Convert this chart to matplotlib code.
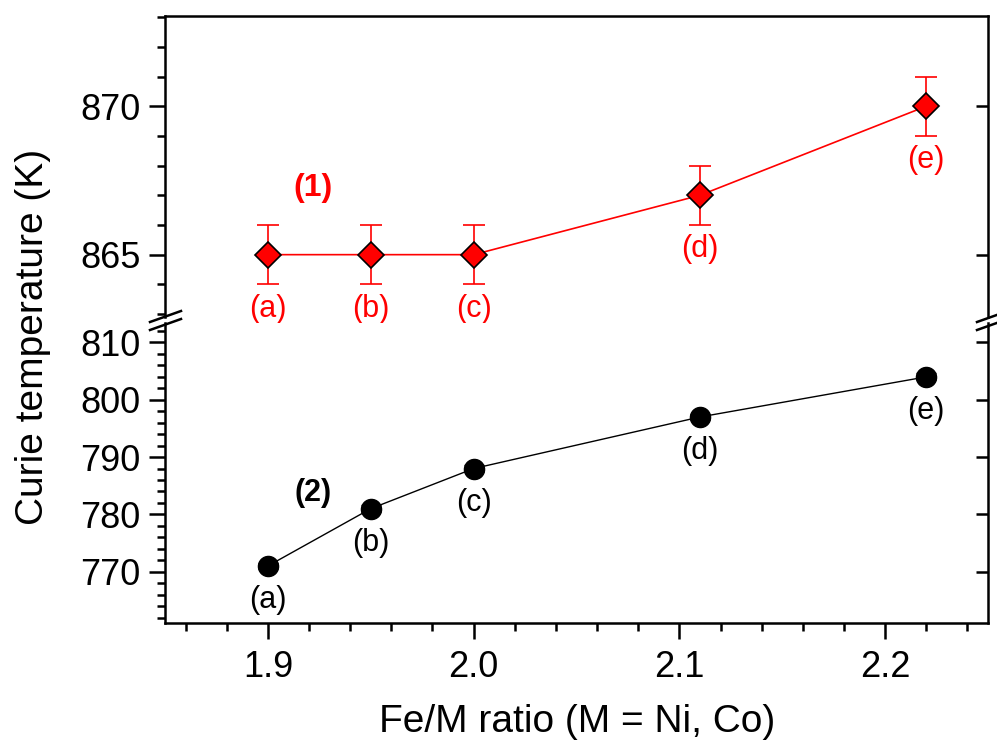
import matplotlib
matplotlib.use("Agg")
import matplotlib.pyplot as plt
from matplotlib.ticker import MultipleLocator
from matplotlib.lines import Line2D

plt.rcParams["font.family"] = ["Liberation Sans", "DejaVu Sans"]

# data
ratio = [1.9, 1.95, 2.0, 2.11, 2.22]
point_labels = ["(a)", "(b)", "(c)", "(d)", "(e)"]
tc_1 = [865, 865, 865, 867, 870]
tc_1_err = [1, 1, 1, 1, 1]
tc_2 = [771, 781, 788, 797, 804]
tc_2_err = [0.6, 0.6, 0.6, 0.6, 0.6]

RED = "#FF0000"
W, H = 997, 751

fig = plt.figure(figsize=(W / 100, H / 100), dpi=100)
left, right = 165 / W, 988 / W
ax_top = fig.add_axes([left, 1 - 317 / H, right - left, (317 - 15.7) / H])
ax_bot = fig.add_axes([left, 1 - 622.7 / H, right - left, (622.7 - 323) / H])

# series (1)
ax_top.errorbar(ratio, tc_1, yerr=tc_1_err, color=RED, lw=1.2, elinewidth=1.2,
                capsize=8, capthick=1.2, marker="D", ms=13.5,
                markerfacecolor=RED, markeredgecolor="black", markeredgewidth=1.2,
                zorder=3)
for x, y, t in zip(ratio, tc_1, point_labels):
    ax_top.annotate(t, (x, y), xytext=(0, -39), textcoords="offset points",
                    ha="center", va="center", color=RED, fontsize=22)
ax_top.text(1.922, 867.25, "(1)", color=RED, fontsize=23, fontweight="bold",
            ha="center", va="center")

# series (2)
ax_bot.errorbar(ratio, tc_2, yerr=tc_2_err, color="black", lw=1.0, elinewidth=1.0,
                capsize=7, capthick=1.0, marker="o", ms=14.5,
                markerfacecolor="black", markeredgecolor="black", zorder=3)
for x, y, t in zip(ratio, tc_2, point_labels):
    ax_bot.annotate(t, (x, y), xytext=(0, -24.5), textcoords="offset points",
                    ha="center", va="center", color="black", fontsize=22)
ax_bot.text(1.922, 783.7, "(2)", color="black", fontsize=22, fontweight="bold",
            ha="center", va="center")

# limits / ticks
for ax in (ax_top, ax_bot):
    ax.set_xlim(1.85, 2.25)
    for s in ax.spines.values():
        s.set_linewidth(1.8)
    ax.tick_params(axis="y", which="major", direction="out", length=11.5, width=1.8,
                   labelsize=26, pad=6)
    ax.tick_params(axis="y", which="minor", direction="out", length=6, width=1.8)

ax_top.set_ylim(862.9, 873.05)
ax_top.yaxis.set_major_locator(MultipleLocator(5))
ax_top.yaxis.set_minor_locator(MultipleLocator(1))
ax_top.spines["bottom"].set_visible(False)
ax_top.tick_params(axis="x", which="both", bottom=False, labelbottom=False)

ax_bot.set_ylim(761.1, 813.4)
ax_bot.yaxis.set_major_locator(MultipleLocator(10))
ax_bot.yaxis.set_minor_locator(MultipleLocator(2))
ax_bot.spines["top"].set_visible(False)
ax_bot.xaxis.set_major_locator(MultipleLocator(0.1))
ax_bot.xaxis.set_minor_locator(MultipleLocator(0.02))
ax_bot.xaxis.set_major_formatter(plt.FormatStrFormatter("%.1f"))
ax_bot.tick_params(axis="x", which="major", direction="out", length=11.5, width=1.8,
                   labelsize=26, pad=8)
ax_bot.tick_params(axis="x", which="minor", direction="out", length=6, width=1.8)

# inward major ticks on the right spine
for ax in (ax_top, ax_bot):
    r = ax.secondary_yaxis("right")
    r.set_yticks(ax.get_yticks())
    r.tick_params(axis="y", direction="in", length=9, width=1.8, labelright=False)
    r.spines["right"].set_visible(False)
    r.yaxis.set_minor_locator(plt.NullLocator())

# break marks
for x0 in (150, 977):
    for dy in (0, 8):
        fig.add_artist(Line2D([x0 / W, (x0 + 31) / W],
                              [1 - (322 + dy) / H, 1 - (311 + dy) / H],
                              color="black", lw=1.8))

fig.text(33 / W, 1 - 337 / H, "Curie temperature (K)", rotation=90,
         ha="center", va="center", fontsize=28)
fig.text(577 / W, 1 - 722 / H, "Fe/M ratio (M = Ni, Co)",
         ha="center", va="center", fontsize=28)

fig.savefig("out.png", dpi=100, facecolor="white")
